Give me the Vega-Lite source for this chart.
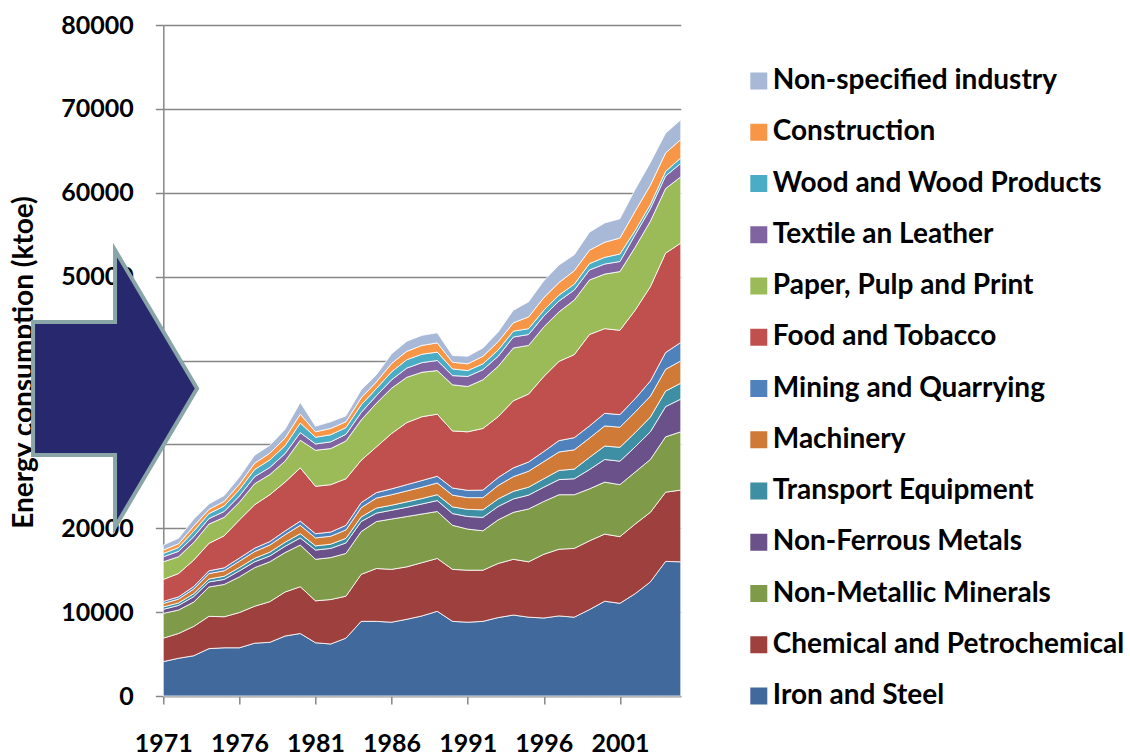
{
"$schema": "https://vega.github.io/schema/vega-lite/v6.json",
"width": 517.5, "height": 671,
"autosize": {"type": "none"},
"padding": {"left": 163.3, "top": 25, "right": 449.2, "bottom": 60},
"background": "white",
"config": {"view": {"stroke": null}, "font": "Lato"},
"datasets": {
"energy": [
{"year":1971,"sector":"Iron and Steel","ktoe":4100},{"year":1972,"sector":"Iron and Steel","ktoe":4500},{"year":1973,"sector":"Iron and Steel","ktoe":4800},{"year":1974,"sector":"Iron and Steel","ktoe":5650},{"year":1975,"sector":"Iron and Steel","ktoe":5750},{"year":1976,"sector":"Iron and Steel","ktoe":5750},{"year":1977,"sector":"Iron and Steel","ktoe":6300},{"year":1978,"sector":"Iron and Steel","ktoe":6400},{"year":1979,"sector":"Iron and Steel","ktoe":7150},{"year":1980,"sector":"Iron and Steel","ktoe":7450},{"year":1981,"sector":"Iron and Steel","ktoe":6350},{"year":1982,"sector":"Iron and Steel","ktoe":6200},{"year":1983,"sector":"Iron and Steel","ktoe":6900},{"year":1984,"sector":"Iron and Steel","ktoe":8900},{"year":1985,"sector":"Iron and Steel","ktoe":8900},{"year":1986,"sector":"Iron and Steel","ktoe":8800},{"year":1987,"sector":"Iron and Steel","ktoe":9150},{"year":1988,"sector":"Iron and Steel","ktoe":9550},{"year":1989,"sector":"Iron and Steel","ktoe":10100},{"year":1990,"sector":"Iron and Steel","ktoe":8900},{"year":1991,"sector":"Iron and Steel","ktoe":8800},{"year":1992,"sector":"Iron and Steel","ktoe":8900},{"year":1993,"sector":"Iron and Steel","ktoe":9350},{"year":1994,"sector":"Iron and Steel","ktoe":9650},{"year":1995,"sector":"Iron and Steel","ktoe":9400},{"year":1996,"sector":"Iron and Steel","ktoe":9300},{"year":1997,"sector":"Iron and Steel","ktoe":9550},{"year":1998,"sector":"Iron and Steel","ktoe":9400},{"year":1999,"sector":"Iron and Steel","ktoe":10300},{"year":2000,"sector":"Iron and Steel","ktoe":11300},{"year":2001,"sector":"Iron and Steel","ktoe":11050},{"year":2002,"sector":"Iron and Steel","ktoe":12200},{"year":2003,"sector":"Iron and Steel","ktoe":13600},{"year":2004,"sector":"Iron and Steel","ktoe":16050},{"year":2005,"sector":"Iron and Steel","ktoe":16000},
{"year":1971,"sector":"Chemical and Petrochemical","ktoe":2800},{"year":1972,"sector":"Chemical and Petrochemical","ktoe":2950},{"year":1973,"sector":"Chemical and Petrochemical","ktoe":3500},{"year":1974,"sector":"Chemical and Petrochemical","ktoe":3850},{"year":1975,"sector":"Chemical and Petrochemical","ktoe":3700},{"year":1976,"sector":"Chemical and Petrochemical","ktoe":4200},{"year":1977,"sector":"Chemical and Petrochemical","ktoe":4400},{"year":1978,"sector":"Chemical and Petrochemical","ktoe":4850},{"year":1979,"sector":"Chemical and Petrochemical","ktoe":5250},{"year":1980,"sector":"Chemical and Petrochemical","ktoe":5580},{"year":1981,"sector":"Chemical and Petrochemical","ktoe":5000},{"year":1982,"sector":"Chemical and Petrochemical","ktoe":5300},{"year":1983,"sector":"Chemical and Petrochemical","ktoe":5000},{"year":1984,"sector":"Chemical and Petrochemical","ktoe":5600},{"year":1985,"sector":"Chemical and Petrochemical","ktoe":6300},{"year":1986,"sector":"Chemical and Petrochemical","ktoe":6300},{"year":1987,"sector":"Chemical and Petrochemical","ktoe":6250},{"year":1988,"sector":"Chemical and Petrochemical","ktoe":6350},{"year":1989,"sector":"Chemical and Petrochemical","ktoe":6300},{"year":1990,"sector":"Chemical and Petrochemical","ktoe":6200},{"year":1991,"sector":"Chemical and Petrochemical","ktoe":6200},{"year":1992,"sector":"Chemical and Petrochemical","ktoe":6100},{"year":1993,"sector":"Chemical and Petrochemical","ktoe":6450},{"year":1994,"sector":"Chemical and Petrochemical","ktoe":6650},{"year":1995,"sector":"Chemical and Petrochemical","ktoe":6600},{"year":1996,"sector":"Chemical and Petrochemical","ktoe":7600},{"year":1997,"sector":"Chemical and Petrochemical","ktoe":7950},{"year":1998,"sector":"Chemical and Petrochemical","ktoe":8200},{"year":1999,"sector":"Chemical and Petrochemical","ktoe":8200},{"year":2000,"sector":"Chemical and Petrochemical","ktoe":8000},{"year":2001,"sector":"Chemical and Petrochemical","ktoe":7950},{"year":2002,"sector":"Chemical and Petrochemical","ktoe":8300},{"year":2003,"sector":"Chemical and Petrochemical","ktoe":8300},{"year":2004,"sector":"Chemical and Petrochemical","ktoe":8250},{"year":2005,"sector":"Chemical and Petrochemical","ktoe":8550},
{"year":1971,"sector":"Non-Metallic Minerals","ktoe":2950},{"year":1972,"sector":"Non-Metallic Minerals","ktoe":2800},{"year":1973,"sector":"Non-Metallic Minerals","ktoe":2900},{"year":1974,"sector":"Non-Metallic Minerals","ktoe":3500},{"year":1975,"sector":"Non-Metallic Minerals","ktoe":3850},{"year":1976,"sector":"Non-Metallic Minerals","ktoe":4250},{"year":1977,"sector":"Non-Metallic Minerals","ktoe":4600},{"year":1978,"sector":"Non-Metallic Minerals","ktoe":4750},{"year":1979,"sector":"Non-Metallic Minerals","ktoe":4700},{"year":1980,"sector":"Non-Metallic Minerals","ktoe":4970},{"year":1981,"sector":"Non-Metallic Minerals","ktoe":4950},{"year":1982,"sector":"Non-Metallic Minerals","ktoe":5000},{"year":1983,"sector":"Non-Metallic Minerals","ktoe":5100},{"year":1984,"sector":"Non-Metallic Minerals","ktoe":5100},{"year":1985,"sector":"Non-Metallic Minerals","ktoe":5600},{"year":1986,"sector":"Non-Metallic Minerals","ktoe":6000},{"year":1987,"sector":"Non-Metallic Minerals","ktoe":6000},{"year":1988,"sector":"Non-Metallic Minerals","ktoe":5800},{"year":1989,"sector":"Non-Metallic Minerals","ktoe":5600},{"year":1990,"sector":"Non-Metallic Minerals","ktoe":5250},{"year":1991,"sector":"Non-Metallic Minerals","ktoe":4900},{"year":1992,"sector":"Non-Metallic Minerals","ktoe":4700},{"year":1993,"sector":"Non-Metallic Minerals","ktoe":5200},{"year":1994,"sector":"Non-Metallic Minerals","ktoe":5600},{"year":1995,"sector":"Non-Metallic Minerals","ktoe":6300},{"year":1996,"sector":"Non-Metallic Minerals","ktoe":6300},{"year":1997,"sector":"Non-Metallic Minerals","ktoe":6500},{"year":1998,"sector":"Non-Metallic Minerals","ktoe":6400},{"year":1999,"sector":"Non-Metallic Minerals","ktoe":6200},{"year":2000,"sector":"Non-Metallic Minerals","ktoe":6200},{"year":2001,"sector":"Non-Metallic Minerals","ktoe":6200},{"year":2002,"sector":"Non-Metallic Minerals","ktoe":6200},{"year":2003,"sector":"Non-Metallic Minerals","ktoe":6300},{"year":2004,"sector":"Non-Metallic Minerals","ktoe":6600},{"year":2005,"sector":"Non-Metallic Minerals","ktoe":6950},
{"year":1971,"sector":"Non-Ferrous Metals","ktoe":480},{"year":1972,"sector":"Non-Ferrous Metals","ktoe":550},{"year":1973,"sector":"Non-Ferrous Metals","ktoe":650},{"year":1974,"sector":"Non-Ferrous Metals","ktoe":600},{"year":1975,"sector":"Non-Ferrous Metals","ktoe":600},{"year":1976,"sector":"Non-Ferrous Metals","ktoe":720},{"year":1977,"sector":"Non-Ferrous Metals","ktoe":700},{"year":1978,"sector":"Non-Ferrous Metals","ktoe":700},{"year":1979,"sector":"Non-Ferrous Metals","ktoe":750},{"year":1980,"sector":"Non-Ferrous Metals","ktoe":850},{"year":1981,"sector":"Non-Ferrous Metals","ktoe":1100},{"year":1982,"sector":"Non-Ferrous Metals","ktoe":1100},{"year":1983,"sector":"Non-Ferrous Metals","ktoe":1250},{"year":1984,"sector":"Non-Ferrous Metals","ktoe":1200},{"year":1985,"sector":"Non-Ferrous Metals","ktoe":1000},{"year":1986,"sector":"Non-Ferrous Metals","ktoe":1050},{"year":1987,"sector":"Non-Ferrous Metals","ktoe":1100},{"year":1988,"sector":"Non-Ferrous Metals","ktoe":1200},{"year":1989,"sector":"Non-Ferrous Metals","ktoe":1300},{"year":1990,"sector":"Non-Ferrous Metals","ktoe":1400},{"year":1991,"sector":"Non-Ferrous Metals","ktoe":1500},{"year":1992,"sector":"Non-Ferrous Metals","ktoe":1600},{"year":1993,"sector":"Non-Ferrous Metals","ktoe":1600},{"year":1994,"sector":"Non-Ferrous Metals","ktoe":1600},{"year":1995,"sector":"Non-Ferrous Metals","ktoe":1650},{"year":1996,"sector":"Non-Ferrous Metals","ktoe":1700},{"year":1997,"sector":"Non-Ferrous Metals","ktoe":1800},{"year":1998,"sector":"Non-Ferrous Metals","ktoe":1900},{"year":1999,"sector":"Non-Ferrous Metals","ktoe":2300},{"year":2000,"sector":"Non-Ferrous Metals","ktoe":2700},{"year":2001,"sector":"Non-Ferrous Metals","ktoe":2800},{"year":2002,"sector":"Non-Ferrous Metals","ktoe":3000},{"year":2003,"sector":"Non-Ferrous Metals","ktoe":3300},{"year":2004,"sector":"Non-Ferrous Metals","ktoe":3600},{"year":2005,"sector":"Non-Ferrous Metals","ktoe":3900},
{"year":1971,"sector":"Transport Equipment","ktoe":300},{"year":1972,"sector":"Transport Equipment","ktoe":300},{"year":1973,"sector":"Transport Equipment","ktoe":350},{"year":1974,"sector":"Transport Equipment","ktoe":350},{"year":1975,"sector":"Transport Equipment","ktoe":380},{"year":1976,"sector":"Transport Equipment","ktoe":400},{"year":1977,"sector":"Transport Equipment","ktoe":420},{"year":1978,"sector":"Transport Equipment","ktoe":450},{"year":1979,"sector":"Transport Equipment","ktoe":480},{"year":1980,"sector":"Transport Equipment","ktoe":500},{"year":1981,"sector":"Transport Equipment","ktoe":500},{"year":1982,"sector":"Transport Equipment","ktoe":500},{"year":1983,"sector":"Transport Equipment","ktoe":550},{"year":1984,"sector":"Transport Equipment","ktoe":550},{"year":1985,"sector":"Transport Equipment","ktoe":600},{"year":1986,"sector":"Transport Equipment","ktoe":600},{"year":1987,"sector":"Transport Equipment","ktoe":650},{"year":1988,"sector":"Transport Equipment","ktoe":650},{"year":1989,"sector":"Transport Equipment","ktoe":700},{"year":1990,"sector":"Transport Equipment","ktoe":800},{"year":1991,"sector":"Transport Equipment","ktoe":850},{"year":1992,"sector":"Transport Equipment","ktoe":900},{"year":1993,"sector":"Transport Equipment","ktoe":900},{"year":1994,"sector":"Transport Equipment","ktoe":900},{"year":1995,"sector":"Transport Equipment","ktoe":950},{"year":1996,"sector":"Transport Equipment","ktoe":1000},{"year":1997,"sector":"Transport Equipment","ktoe":1100},{"year":1998,"sector":"Transport Equipment","ktoe":1150},{"year":1999,"sector":"Transport Equipment","ktoe":1450},{"year":2000,"sector":"Transport Equipment","ktoe":1600},{"year":2001,"sector":"Transport Equipment","ktoe":1650},{"year":2002,"sector":"Transport Equipment","ktoe":1700},{"year":2003,"sector":"Transport Equipment","ktoe":1750},{"year":2004,"sector":"Transport Equipment","ktoe":1850},{"year":2005,"sector":"Transport Equipment","ktoe":1900},
{"year":1971,"sector":"Machinery","ktoe":400},{"year":1972,"sector":"Machinery","ktoe":450},{"year":1973,"sector":"Machinery","ktoe":550},{"year":1974,"sector":"Machinery","ktoe":650},{"year":1975,"sector":"Machinery","ktoe":650},{"year":1976,"sector":"Machinery","ktoe":750},{"year":1977,"sector":"Machinery","ktoe":800},{"year":1978,"sector":"Machinery","ktoe":850},{"year":1979,"sector":"Machinery","ktoe":900},{"year":1980,"sector":"Machinery","ktoe":1000},{"year":1981,"sector":"Machinery","ktoe":950},{"year":1982,"sector":"Machinery","ktoe":950},{"year":1983,"sector":"Machinery","ktoe":1000},{"year":1984,"sector":"Machinery","ktoe":1100},{"year":1985,"sector":"Machinery","ktoe":1200},{"year":1986,"sector":"Machinery","ktoe":1250},{"year":1987,"sector":"Machinery","ktoe":1300},{"year":1988,"sector":"Machinery","ktoe":1350},{"year":1989,"sector":"Machinery","ktoe":1400},{"year":1990,"sector":"Machinery","ktoe":1400},{"year":1991,"sector":"Machinery","ktoe":1400},{"year":1992,"sector":"Machinery","ktoe":1450},{"year":1993,"sector":"Machinery","ktoe":1600},{"year":1994,"sector":"Machinery","ktoe":1750},{"year":1995,"sector":"Machinery","ktoe":1900},{"year":1996,"sector":"Machinery","ktoe":2050},{"year":1997,"sector":"Machinery","ktoe":2200},{"year":1998,"sector":"Machinery","ktoe":2300},{"year":1999,"sector":"Machinery","ktoe":2300},{"year":2000,"sector":"Machinery","ktoe":2400},{"year":2001,"sector":"Machinery","ktoe":2400},{"year":2002,"sector":"Machinery","ktoe":2450},{"year":2003,"sector":"Machinery","ktoe":2500},{"year":2004,"sector":"Machinery","ktoe":2600},{"year":2005,"sector":"Machinery","ktoe":2650},
{"year":1971,"sector":"Mining and Quarrying","ktoe":250},{"year":1972,"sector":"Mining and Quarrying","ktoe":270},{"year":1973,"sector":"Mining and Quarrying","ktoe":300},{"year":1974,"sector":"Mining and Quarrying","ktoe":330},{"year":1975,"sector":"Mining and Quarrying","ktoe":350},{"year":1976,"sector":"Mining and Quarrying","ktoe":380},{"year":1977,"sector":"Mining and Quarrying","ktoe":400},{"year":1978,"sector":"Mining and Quarrying","ktoe":420},{"year":1979,"sector":"Mining and Quarrying","ktoe":450},{"year":1980,"sector":"Mining and Quarrying","ktoe":500},{"year":1981,"sector":"Mining and Quarrying","ktoe":500},{"year":1982,"sector":"Mining and Quarrying","ktoe":500},{"year":1983,"sector":"Mining and Quarrying","ktoe":550},{"year":1984,"sector":"Mining and Quarrying","ktoe":600},{"year":1985,"sector":"Mining and Quarrying","ktoe":650},{"year":1986,"sector":"Mining and Quarrying","ktoe":700},{"year":1987,"sector":"Mining and Quarrying","ktoe":750},{"year":1988,"sector":"Mining and Quarrying","ktoe":800},{"year":1989,"sector":"Mining and Quarrying","ktoe":800},{"year":1990,"sector":"Mining and Quarrying","ktoe":850},{"year":1991,"sector":"Mining and Quarrying","ktoe":870},{"year":1992,"sector":"Mining and Quarrying","ktoe":900},{"year":1993,"sector":"Mining and Quarrying","ktoe":950},{"year":1994,"sector":"Mining and Quarrying","ktoe":1050},{"year":1995,"sector":"Mining and Quarrying","ktoe":1100},{"year":1996,"sector":"Mining and Quarrying","ktoe":1200},{"year":1997,"sector":"Mining and Quarrying","ktoe":1350},{"year":1998,"sector":"Mining and Quarrying","ktoe":1450},{"year":1999,"sector":"Mining and Quarrying","ktoe":1450},{"year":2000,"sector":"Mining and Quarrying","ktoe":1500},{"year":2001,"sector":"Mining and Quarrying","ktoe":1500},{"year":2002,"sector":"Mining and Quarrying","ktoe":1600},{"year":2003,"sector":"Mining and Quarrying","ktoe":1800},{"year":2004,"sector":"Mining and Quarrying","ktoe":2000},{"year":2005,"sector":"Mining and Quarrying","ktoe":2200},
{"year":1971,"sector":"Food and Tobacco","ktoe":2620},{"year":1972,"sector":"Food and Tobacco","ktoe":2780},{"year":1973,"sector":"Food and Tobacco","ktoe":3150},{"year":1974,"sector":"Food and Tobacco","ktoe":3270},{"year":1975,"sector":"Food and Tobacco","ktoe":3820},{"year":1976,"sector":"Food and Tobacco","ktoe":4550},{"year":1977,"sector":"Food and Tobacco","ktoe":5180},{"year":1978,"sector":"Food and Tobacco","ktoe":5580},{"year":1979,"sector":"Food and Tobacco","ktoe":5820},{"year":1980,"sector":"Food and Tobacco","ktoe":6350},{"year":1981,"sector":"Food and Tobacco","ktoe":5650},{"year":1982,"sector":"Food and Tobacco","ktoe":5650},{"year":1983,"sector":"Food and Tobacco","ktoe":5550},{"year":1984,"sector":"Food and Tobacco","ktoe":5050},{"year":1985,"sector":"Food and Tobacco","ktoe":5450},{"year":1986,"sector":"Food and Tobacco","ktoe":6600},{"year":1987,"sector":"Food and Tobacco","ktoe":7400},{"year":1988,"sector":"Food and Tobacco","ktoe":7600},{"year":1989,"sector":"Food and Tobacco","ktoe":7400},{"year":1990,"sector":"Food and Tobacco","ktoe":6800},{"year":1991,"sector":"Food and Tobacco","ktoe":6980},{"year":1992,"sector":"Food and Tobacco","ktoe":7350},{"year":1993,"sector":"Food and Tobacco","ktoe":7250},{"year":1994,"sector":"Food and Tobacco","ktoe":8000},{"year":1995,"sector":"Food and Tobacco","ktoe":8100},{"year":1996,"sector":"Food and Tobacco","ktoe":8950},{"year":1997,"sector":"Food and Tobacco","ktoe":9450},{"year":1998,"sector":"Food and Tobacco","ktoe":9900},{"year":1999,"sector":"Food and Tobacco","ktoe":10900},{"year":2000,"sector":"Food and Tobacco","ktoe":10100},{"year":2001,"sector":"Food and Tobacco","ktoe":10050},{"year":2002,"sector":"Food and Tobacco","ktoe":10550},{"year":2003,"sector":"Food and Tobacco","ktoe":11250},{"year":2004,"sector":"Food and Tobacco","ktoe":11850},{"year":2005,"sector":"Food and Tobacco","ktoe":11850},
{"year":1971,"sector":"Paper, Pulp and Print","ktoe":2100},{"year":1972,"sector":"Paper, Pulp and Print","ktoe":2000},{"year":1973,"sector":"Paper, Pulp and Print","ktoe":2100},{"year":1974,"sector":"Paper, Pulp and Print","ktoe":2300},{"year":1975,"sector":"Paper, Pulp and Print","ktoe":2200},{"year":1976,"sector":"Paper, Pulp and Print","ktoe":2100},{"year":1977,"sector":"Paper, Pulp and Print","ktoe":2500},{"year":1978,"sector":"Paper, Pulp and Print","ktoe":2400},{"year":1979,"sector":"Paper, Pulp and Print","ktoe":2500},{"year":1980,"sector":"Paper, Pulp and Print","ktoe":3300},{"year":1981,"sector":"Paper, Pulp and Print","ktoe":4300},{"year":1982,"sector":"Paper, Pulp and Print","ktoe":4300},{"year":1983,"sector":"Paper, Pulp and Print","ktoe":4500},{"year":1984,"sector":"Paper, Pulp and Print","ktoe":4800},{"year":1985,"sector":"Paper, Pulp and Print","ktoe":5200},{"year":1986,"sector":"Paper, Pulp and Print","ktoe":5400},{"year":1987,"sector":"Paper, Pulp and Print","ktoe":5400},{"year":1988,"sector":"Paper, Pulp and Print","ktoe":5300},{"year":1989,"sector":"Paper, Pulp and Print","ktoe":5200},{"year":1990,"sector":"Paper, Pulp and Print","ktoe":5500},{"year":1991,"sector":"Paper, Pulp and Print","ktoe":5400},{"year":1992,"sector":"Paper, Pulp and Print","ktoe":5800},{"year":1993,"sector":"Paper, Pulp and Print","ktoe":6000},{"year":1994,"sector":"Paper, Pulp and Print","ktoe":6300},{"year":1995,"sector":"Paper, Pulp and Print","ktoe":5800},{"year":1996,"sector":"Paper, Pulp and Print","ktoe":5900},{"year":1997,"sector":"Paper, Pulp and Print","ktoe":5900},{"year":1998,"sector":"Paper, Pulp and Print","ktoe":6500},{"year":1999,"sector":"Paper, Pulp and Print","ktoe":6500},{"year":2000,"sector":"Paper, Pulp and Print","ktoe":6500},{"year":2001,"sector":"Paper, Pulp and Print","ktoe":7000},{"year":2002,"sector":"Paper, Pulp and Print","ktoe":7500},{"year":2003,"sector":"Paper, Pulp and Print","ktoe":7800},{"year":2004,"sector":"Paper, Pulp and Print","ktoe":7700},{"year":2005,"sector":"Paper, Pulp and Print","ktoe":7900},
{"year":1971,"sector":"Textile an Leather","ktoe":600},{"year":1972,"sector":"Textile an Leather","ktoe":650},{"year":1973,"sector":"Textile an Leather","ktoe":700},{"year":1974,"sector":"Textile an Leather","ktoe":650},{"year":1975,"sector":"Textile an Leather","ktoe":700},{"year":1976,"sector":"Textile an Leather","ktoe":750},{"year":1977,"sector":"Textile an Leather","ktoe":850},{"year":1978,"sector":"Textile an Leather","ktoe":850},{"year":1979,"sector":"Textile an Leather","ktoe":900},{"year":1980,"sector":"Textile an Leather","ktoe":900},{"year":1981,"sector":"Textile an Leather","ktoe":750},{"year":1982,"sector":"Textile an Leather","ktoe":800},{"year":1983,"sector":"Textile an Leather","ktoe":800},{"year":1984,"sector":"Textile an Leather","ktoe":900},{"year":1985,"sector":"Textile an Leather","ktoe":900},{"year":1986,"sector":"Textile an Leather","ktoe":1000},{"year":1987,"sector":"Textile an Leather","ktoe":1100},{"year":1988,"sector":"Textile an Leather","ktoe":1150},{"year":1989,"sector":"Textile an Leather","ktoe":1200},{"year":1990,"sector":"Textile an Leather","ktoe":1100},{"year":1991,"sector":"Textile an Leather","ktoe":1200},{"year":1992,"sector":"Textile an Leather","ktoe":1200},{"year":1993,"sector":"Textile an Leather","ktoe":1200},{"year":1994,"sector":"Textile an Leather","ktoe":1300},{"year":1995,"sector":"Textile an Leather","ktoe":1300},{"year":1996,"sector":"Textile an Leather","ktoe":1300},{"year":1997,"sector":"Textile an Leather","ktoe":1300},{"year":1998,"sector":"Textile an Leather","ktoe":1200},{"year":1999,"sector":"Textile an Leather","ktoe":1200},{"year":2000,"sector":"Textile an Leather","ktoe":1200},{"year":2001,"sector":"Textile an Leather","ktoe":1200},{"year":2002,"sector":"Textile an Leather","ktoe":1500},{"year":2003,"sector":"Textile an Leather","ktoe":1500},{"year":2004,"sector":"Textile an Leather","ktoe":1500},{"year":2005,"sector":"Textile an Leather","ktoe":1600},
{"year":1971,"sector":"Wood and Wood Products","ktoe":400},{"year":1972,"sector":"Wood and Wood Products","ktoe":450},{"year":1973,"sector":"Wood and Wood Products","ktoe":650},{"year":1974,"sector":"Wood and Wood Products","ktoe":600},{"year":1975,"sector":"Wood and Wood Products","ktoe":650},{"year":1976,"sector":"Wood and Wood Products","ktoe":750},{"year":1977,"sector":"Wood and Wood Products","ktoe":850},{"year":1978,"sector":"Wood and Wood Products","ktoe":900},{"year":1979,"sector":"Wood and Wood Products","ktoe":950},{"year":1980,"sector":"Wood and Wood Products","ktoe":1150},{"year":1981,"sector":"Wood and Wood Products","ktoe":800},{"year":1982,"sector":"Wood and Wood Products","ktoe":850},{"year":1983,"sector":"Wood and Wood Products","ktoe":800},{"year":1984,"sector":"Wood and Wood Products","ktoe":900},{"year":1985,"sector":"Wood and Wood Products","ktoe":850},{"year":1986,"sector":"Wood and Wood Products","ktoe":950},{"year":1987,"sector":"Wood and Wood Products","ktoe":1000},{"year":1988,"sector":"Wood and Wood Products","ktoe":1000},{"year":1989,"sector":"Wood and Wood Products","ktoe":1000},{"year":1990,"sector":"Wood and Wood Products","ktoe":800},{"year":1991,"sector":"Wood and Wood Products","ktoe":700},{"year":1992,"sector":"Wood and Wood Products","ktoe":700},{"year":1993,"sector":"Wood and Wood Products","ktoe":750},{"year":1994,"sector":"Wood and Wood Products","ktoe":700},{"year":1995,"sector":"Wood and Wood Products","ktoe":700},{"year":1996,"sector":"Wood and Wood Products","ktoe":700},{"year":1997,"sector":"Wood and Wood Products","ktoe":700},{"year":1998,"sector":"Wood and Wood Products","ktoe":700},{"year":1999,"sector":"Wood and Wood Products","ktoe":750},{"year":2000,"sector":"Wood and Wood Products","ktoe":800},{"year":2001,"sector":"Wood and Wood Products","ktoe":900},{"year":2002,"sector":"Wood and Wood Products","ktoe":500},{"year":2003,"sector":"Wood and Wood Products","ktoe":500},{"year":2004,"sector":"Wood and Wood Products","ktoe":550},{"year":2005,"sector":"Wood and Wood Products","ktoe":650},
{"year":1971,"sector":"Construction","ktoe":400},{"year":1972,"sector":"Construction","ktoe":450},{"year":1973,"sector":"Construction","ktoe":600},{"year":1974,"sector":"Construction","ktoe":500},{"year":1975,"sector":"Construction","ktoe":550},{"year":1976,"sector":"Construction","ktoe":650},{"year":1977,"sector":"Construction","ktoe":750},{"year":1978,"sector":"Construction","ktoe":800},{"year":1979,"sector":"Construction","ktoe":900},{"year":1980,"sector":"Construction","ktoe":1050},{"year":1981,"sector":"Construction","ktoe":650},{"year":1982,"sector":"Construction","ktoe":750},{"year":1983,"sector":"Construction","ktoe":700},{"year":1984,"sector":"Construction","ktoe":850},{"year":1985,"sector":"Construction","ktoe":800},{"year":1986,"sector":"Construction","ktoe":1000},{"year":1987,"sector":"Construction","ktoe":1000},{"year":1988,"sector":"Construction","ktoe":1050},{"year":1989,"sector":"Construction","ktoe":1100},{"year":1990,"sector":"Construction","ktoe":800},{"year":1991,"sector":"Construction","ktoe":800},{"year":1992,"sector":"Construction","ktoe":900},{"year":1993,"sector":"Construction","ktoe":1000},{"year":1994,"sector":"Construction","ktoe":1000},{"year":1995,"sector":"Construction","ktoe":1400},{"year":1996,"sector":"Construction","ktoe":1500},{"year":1997,"sector":"Construction","ktoe":1500},{"year":1998,"sector":"Construction","ktoe":1600},{"year":1999,"sector":"Construction","ktoe":1600},{"year":2000,"sector":"Construction","ktoe":1800},{"year":2001,"sector":"Construction","ktoe":1900},{"year":2002,"sector":"Construction","ktoe":2300},{"year":2003,"sector":"Construction","ktoe":2300},{"year":2004,"sector":"Construction","ktoe":2200},{"year":2005,"sector":"Construction","ktoe":2200},
{"year":1971,"sector":"Non-specified industry","ktoe":600},{"year":1972,"sector":"Non-specified industry","ktoe":650},{"year":1973,"sector":"Non-specified industry","ktoe":850},{"year":1974,"sector":"Non-specified industry","ktoe":650},{"year":1975,"sector":"Non-specified industry","ktoe":700},{"year":1976,"sector":"Non-specified industry","ktoe":850},{"year":1977,"sector":"Non-specified industry","ktoe":950},{"year":1978,"sector":"Non-specified industry","ktoe":950},{"year":1979,"sector":"Non-specified industry","ktoe":1050},{"year":1980,"sector":"Non-specified industry","ktoe":1400},{"year":1981,"sector":"Non-specified industry","ktoe":660},{"year":1982,"sector":"Non-specified industry","ktoe":800},{"year":1983,"sector":"Non-specified industry","ktoe":700},{"year":1984,"sector":"Non-specified industry","ktoe":950},{"year":1985,"sector":"Non-specified industry","ktoe":850},{"year":1986,"sector":"Non-specified industry","ktoe":1150},{"year":1987,"sector":"Non-specified industry","ktoe":1200},{"year":1988,"sector":"Non-specified industry","ktoe":1200},{"year":1989,"sector":"Non-specified industry","ktoe":1200},{"year":1990,"sector":"Non-specified industry","ktoe":800},{"year":1991,"sector":"Non-specified industry","ktoe":900},{"year":1992,"sector":"Non-specified industry","ktoe":1000},{"year":1993,"sector":"Non-specified industry","ktoe":1150},{"year":1994,"sector":"Non-specified industry","ktoe":1500},{"year":1995,"sector":"Non-specified industry","ktoe":1800},{"year":1996,"sector":"Non-specified industry","ktoe":2000},{"year":1997,"sector":"Non-specified industry","ktoe":2100},{"year":1998,"sector":"Non-specified industry","ktoe":1900},{"year":1999,"sector":"Non-specified industry","ktoe":2150},{"year":2000,"sector":"Non-specified industry","ktoe":2300},{"year":2001,"sector":"Non-specified industry","ktoe":2300},{"year":2002,"sector":"Non-specified industry","ktoe":2600},{"year":2003,"sector":"Non-specified industry","ktoe":2700},{"year":2004,"sector":"Non-specified industry","ktoe":2350},{"year":2005,"sector":"Non-specified industry","ktoe":2350}
],
"sectors": [
{"sector":"Iron and Steel","rank":1},{"sector":"Chemical and Petrochemical","rank":2},{"sector":"Non-Metallic Minerals","rank":3},{"sector":"Non-Ferrous Metals","rank":4},{"sector":"Transport Equipment","rank":5},{"sector":"Machinery","rank":6},{"sector":"Mining and Quarrying","rank":7},{"sector":"Food and Tobacco","rank":8},{"sector":"Paper, Pulp and Print","rank":9},{"sector":"Textile an Leather","rank":10},{"sector":"Wood and Wood Products","rank":11},{"sector":"Construction","rank":12},{"sector":"Non-specified industry","rank":13}
],
"arrow": [{"label": "arrow"}]
},
"layer": [
{
"data": {"name": "energy"},
"transform": [{"lookup": "sector", "from": {"data": {"name": "sectors"}, "key": "sector", "fields": ["rank"]}}],
"mark": {"type": "area", "interpolate": "linear", "stroke": "white", "strokeWidth": 0.8, "opacity": 1},
"encoding": {
"x": {"field": "year", "type": "quantitative",
"scale": {"domain": [1971, 2005], "nice": false, "zero": false},
"axis": {"values": [1971, 1976, 1981, 1986, 1991, 1996, 2001], "format": "d", "title": null, "grid": false,
"domainColor": "#878787", "domainWidth": 1.5, "tickColor": "#878787", "tickWidth": 1.5, "tickSize": 8,
"labelFont": "Lato", "labelFontSize": 25, "labelFontWeight": "bold", "labelColor": "black",
"labelPadding": 27, "labelFlush": false, "labelOverlap": false}},
"y": {"field": "ktoe", "type": "quantitative", "stack": "zero",
"scale": {"domain": [0, 80000], "nice": false},
"axis": {"values": [0, 10000, 20000, 30000, 40000, 50000, 60000, 70000, 80000], "format": "d",
"title": "Energy consumption (ktoe)", "grid": true, "gridColor": "#878787", "gridWidth": 1.5,
"domainColor": "#878787", "domainWidth": 1.5, "tickColor": "#878787", "tickWidth": 1.5, "tickSize": 8,
"labelFont": "Lato", "labelFontSize": 25, "labelFontWeight": "bold", "labelColor": "black", "labelPadding": 22,
"titleFont": "Lato", "titleFontSize": 28, "titleFontWeight": "bold", "titleColor": "black",
"titleX": -125, "titleY": 337}},
"order": {"field": "rank", "type": "quantitative", "sort": "ascending"},
"color": {"field": "sector", "type": "nominal",
"sort": ["Iron and Steel", "Chemical and Petrochemical", "Non-Metallic Minerals", "Non-Ferrous Metals", "Transport Equipment", "Machinery", "Mining and Quarrying", "Food and Tobacco", "Paper, Pulp and Print", "Textile an Leather", "Wood and Wood Products", "Construction", "Non-specified industry"],
"scale": {"range": ["#42699C", "#9D403E", "#7F9A48", "#6A5189", "#3E8FA4", "#CF7A37", "#4F81BD", "#C0504D", "#9BBB59", "#8064A2", "#4BACC6", "#F79646", "#A8B9D8"]},
"legend": {"orient": "none", "legendX": 581.5, "legendY": 42, "title": null, "padding": 0,
"values": ["Non-specified industry", "Construction", "Wood and Wood Products", "Textile an Leather", "Paper, Pulp and Print", "Food and Tobacco", "Mining and Quarrying", "Machinery", "Transport Equipment", "Non-Ferrous Metals", "Non-Metallic Minerals", "Chemical and Petrochemical", "Iron and Steel"],
"symbolType": "square", "symbolSize": 289, "symbolStrokeWidth": 0, "symbolOpacity": 1,
"labelFont": "Lato", "labelFontSize": 28, "labelFontWeight": "bold", "labelColor": "black",
"labelOffset": 0, "rowPadding": 23.25, "labelLimit": 500}}
}
},
{
"data": {"name": "arrow"},
"mark": {"type": "point", "shape": "M-0.592,-0.48L0,-0.48L0,-1L0.592,0L0,1L0,0.48L-0.592,0.48Z", "size": 76729, "filled": true, "fill": "#28286F", "stroke": "#8AA5A8", "strokeWidth": 4, "opacity": 1, "clip": false},
"encoding": {
"x": {"datum": 1967.83, "type": "quantitative"},
"y": {"datum": 36650, "type": "quantitative"}
}
}
]
}
